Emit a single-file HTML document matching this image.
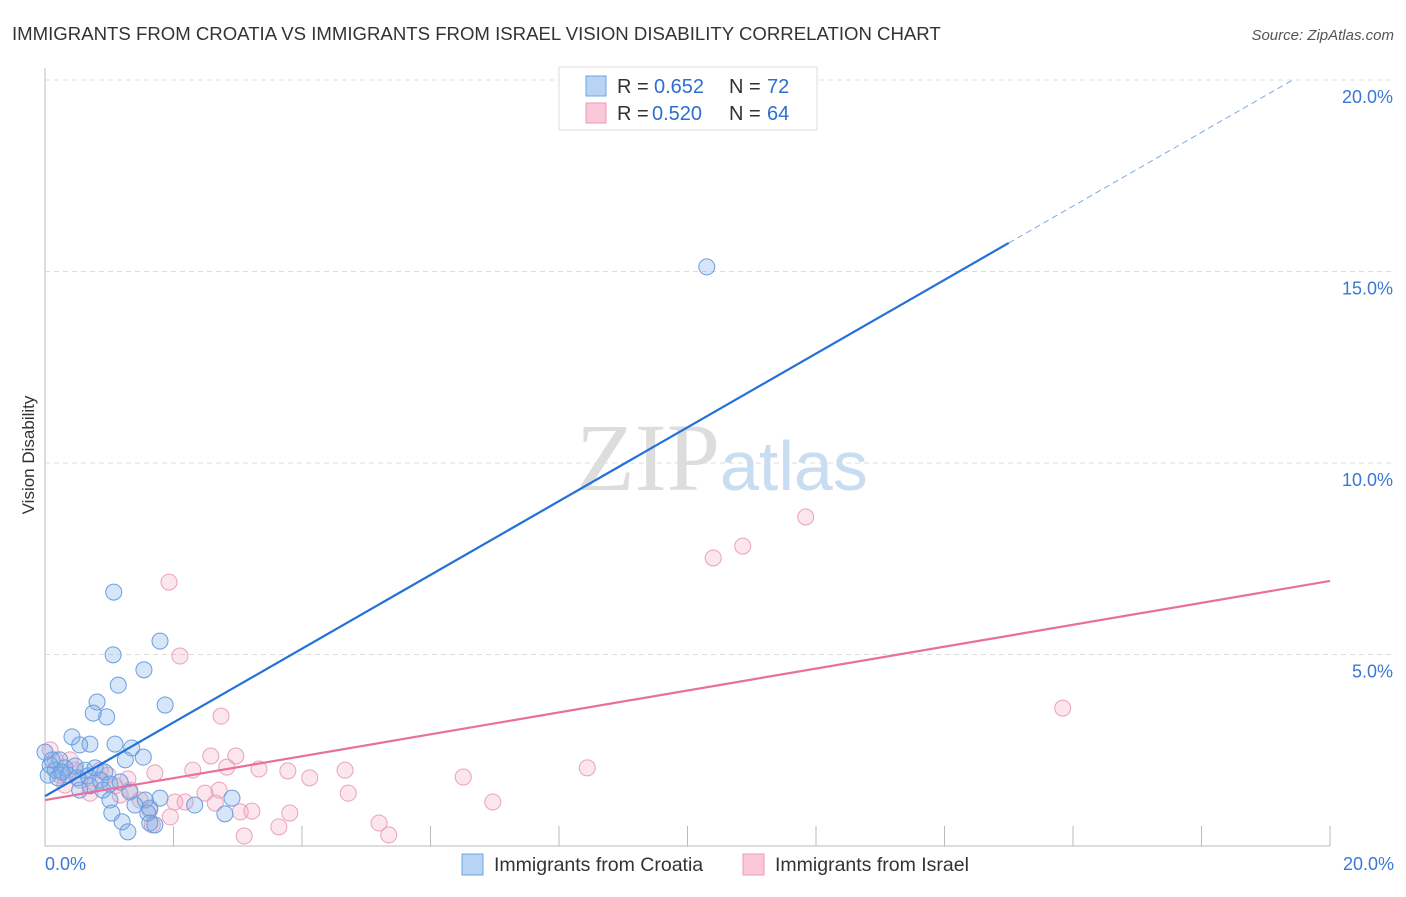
<!DOCTYPE html>
<html><head><meta charset="utf-8"><style>
body{margin:0;background:#fff;font-family:"Liberation Sans",sans-serif;}
</style></head><body>
<svg width="1406" height="892" viewBox="0 0 1406 892" xmlns="http://www.w3.org/2000/svg">
<text x="12" y="40" font-size="18.6" fill="#333">IMMIGRANTS FROM CROATIA VS IMMIGRANTS FROM ISRAEL VISION DISABILITY CORRELATION CHART</text>
<text x="1394" y="40" font-size="15" fill="#555" font-style="italic" text-anchor="end">Source: ZipAtlas.com</text>
<text x="720" y="490" font-size="96" font-family="Liberation Serif,serif" fill="#ddd" text-anchor="end">ZIP</text>
<text x="720" y="490" font-size="70" fill="#c8dcf2">atlas</text>
<text transform="translate(34,455) rotate(-90)" font-size="17" fill="#333" text-anchor="middle">Vision Disability</text>
<g id="grid"></g><g id="pts"></g><g id="lines"></g>
<rect x="559" y="67" width="258" height="63" fill="#fff" stroke="#ddd"/>
<rect x="586" y="76" width="20" height="20" fill="#b8d4f5" stroke="#6fa3e0"/>
<rect x="586" y="103" width="20" height="20" fill="#fac8d8" stroke="#eb9ab8"/>
<g font-size="20" fill="#333">
<text x="617" y="93">R =</text><text x="654" y="93" fill="#2d6fd0">0.652</text>
<text x="729" y="93">N =</text><text x="767" y="93" fill="#2d6fd0">72</text></g>
<g font-size="20" fill="#333">
<text x="617" y="120">R =</text><text x="652" y="120" fill="#2d6fd0">0.520</text>
<text x="729" y="120">N =</text><text x="767" y="120" fill="#2d6fd0">64</text></g>
<rect x="462" y="854" width="21" height="21" fill="#b8d4f5" stroke="#6fa3e0"/>
<text x="494" y="871" font-size="19.5" fill="#333">Immigrants from Croatia</text>
<rect x="743" y="854" width="21" height="21" fill="#fac8d8" stroke="#eb9ab8"/>
<text x="775" y="871" font-size="19.5" fill="#333">Immigrants from Israel</text>
</svg>
<script>
const blueX=[10.30,1.07,1.79,1.06,1.54,1.14,1.87,0.81,0.75,0.96,0.42,0.70,1.09,0.54,1.35,1.53,1.25,0.23,0.08,0.16,0.31,0.47,0.62,0.78,0.93,0.05,0.20,0.36,0.51,0.67,0.86,1.01,1.17,0.70,0.90,1.32,1.56,1.79,1.01,1.40,1.63,2.33,2.91,1.04,1.60,2.80,1.20,1.63,1.29,1.71,0.26,0.11,0.0,0.54];
const blueY=[15.12,6.63,5.35,4.99,4.60,4.20,3.68,3.76,3.47,3.37,2.85,2.66,2.66,2.64,2.56,2.32,2.25,2.25,2.11,1.98,2.04,2.09,1.98,2.04,1.93,1.85,1.78,1.85,1.78,1.83,1.72,1.62,1.67,1.57,1.46,1.41,1.20,1.25,1.20,1.07,0.99,1.07,1.25,0.86,0.86,0.84,0.63,0.60,0.37,0.55,1.93,2.25,2.45,1.46];
const pinkX=[1.93,11.84,10.86,10.40,2.10,2.74,15.84,8.44,6.51,6.97,4.67,4.12,3.78,3.33,2.97,2.58,2.83,2.30,1.71,1.29,0.86,0.39,0.08,0.23,0.54,0.78,1.09,1.32,2.02,2.49,2.71,3.04,3.22,3.81,4.72,5.20,5.35,3.64,3.10,1.67,1.63,1.95,2.18,1.17,0.70,0.31,0.47,0.98,1.48,2.65,0.16];
const pinkY=[6.89,8.59,7.83,7.52,4.96,3.39,3.60,2.04,1.80,1.15,1.98,1.78,1.96,2.01,2.35,2.35,2.06,1.98,1.91,1.75,1.98,2.25,2.51,1.85,1.72,1.64,1.57,1.46,1.15,1.38,1.46,0.89,0.91,0.86,1.38,0.60,0.29,0.50,0.26,0.55,0.94,0.76,1.15,1.33,1.38,1.59,1.98,1.85,1.20,1.12,2.25];
const yTicks=[5,10,15,20];
const yTickLabels=["5.0%","10.0%","15.0%","20.0%"];
const xTicks=[0,2,4,6,8,10,12,14,16,18,20];
const blueTrend=[1.3,0.963];const pinkTrend=[1.2,0.286];
const X=v=>45+v*64.25, Y=v=>846-v*38.3;
const NS="http://www.w3.org/2000/svg";
function mk(t,a,p){const e=document.createElementNS(NS,t);for(const k in a)e.setAttribute(k,a[k]);p.appendChild(e);return e;}
const g=document.getElementById('grid');
let ax=mk('line',{x1:45,y1:68,x2:45,y2:846,stroke:'#bbb'},g);


let bx=mk('line',{x1:45,y1:846,x2:1330,y2:846,stroke:'#bbb'},g);


yTicks.forEach((v,i)=>{
 let l=mk('line',{x1:45,y1:Y(v),x2:1394,y2:Y(v),stroke:'#ddd','stroke-dasharray':'5,4'},g);
 
 
 let t=mk('text',{x:1393,y:Y(v)+23,'font-size':18,fill:'#3a78d4','text-anchor':'end'},g);
 t.textContent=yTickLabels[i];
 
 
});
xTicks.forEach(v=>{
 let l=mk('line',{x1:X(v),y1:826,x2:X(v),y2:846,stroke:'#bbb'},g);
 
 
});
let t0=mk('text',{x:45,y:870,'font-size':18,fill:'#3a78d4'},g);t0.textContent='0.0%';


let t1=mk('text',{x:1394,y:870,'font-size':18,fill:'#3a78d4','text-anchor':'end'},g);t1.textContent='20.0%';


const p=document.getElementById('pts');
pinkX.forEach((x,i)=>{let c=mk('circle',{cx:X(x),cy:Y(pinkY[i]),r:8,fill:'rgba(244,165,192,0.28)',stroke:'#eca0bc','stroke-width':1},p);
 
 });
blueX.forEach((x,i)=>{let c=mk('circle',{cx:X(x),cy:Y(blueY[i]),r:8,fill:'rgba(120,172,232,0.3)',stroke:'#6a9ee0','stroke-width':1},p);
 
 });
const L=document.getElementById('lines');
const bl=(x)=>blueTrend[0]+blueTrend[1]*x, pl=(x)=>pinkTrend[0]+pinkTrend[1]*x;
let a=mk('line',{x1:X(0),y1:Y(bl(0)),x2:X(15),y2:Y(bl(15)),stroke:'#2370d8','stroke-width':2.2},L);


let b=mk('line',{x1:X(15),y1:Y(bl(15)),x2:X(19.4),y2:Y(bl(19.4)),stroke:'#7aaae6','stroke-width':1,'stroke-dasharray':'6,4'},L);


let c=mk('line',{x1:X(0),y1:Y(pl(0)),x2:X(20),y2:Y(pl(20)),stroke:'#e8709a','stroke-width':2.2},L);


</script>
</body></html>
